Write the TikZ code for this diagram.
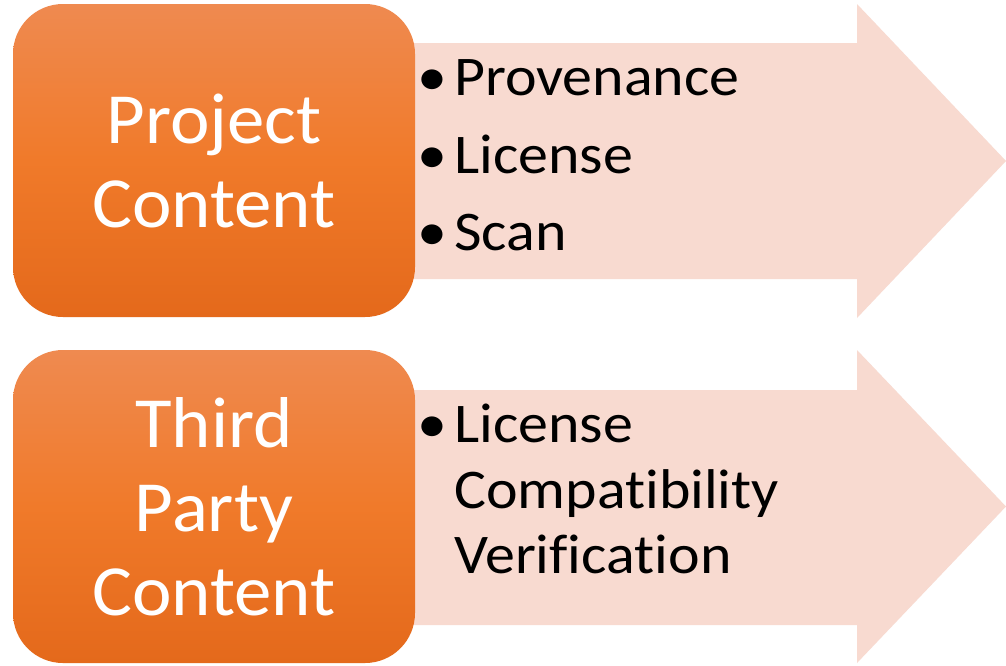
\documentclass[tikz,border=0pt]{standalone}
\usepackage{fontspec}
\setmainfont{Carlito}[Ligatures={NoCommon}]
\newfontfamily\bigfont{Carlito}[Ligatures={NoCommon},FakeStretch=1.04]
\newfontfamily\listfont{Carlito}[Ligatures={NoCommon},FakeStretch=1.07]
\definecolor{arrowpink}{HTML}{F8DAD0}
\definecolor{orTop}{HTML}{EF8A50}
\definecolor{orMid}{HTML}{F07A2A}
\definecolor{orBot}{HTML}{E4691B}
\begin{document}
\begin{tikzpicture}[x=1pt,y=-1pt,
  box/.style={rounded corners=50pt, top color=orTop, bottom color=orBot, middle color=orMid,
    minimum width=402pt, minimum height=313pt, inner sep=0pt, align=center, text=white,
    font=\bigfont\fontsize{72}{84}\selectfont},
  item/.style={anchor=base west, inner sep=0pt, font=\listfont\fontsize{56}{66}\selectfont},
  dot/.style={anchor=base, inner sep=0pt, font=\listfont\fontsize{56}{66}\selectfont},
  arrowshape/.style={fill=arrowpink}]
\useasboundingbox (0,0) rectangle (1006,665);
\fill[white] (0,0) rectangle (1006,665);
% arrows
\path[arrowshape] (380,43) -- (857,43) -- (857,4) -- (1006,161) -- (857,318) -- (857,279) -- (380,279) -- cycle;
\path[arrowshape] (380,390) -- (857,390) -- (857,350) -- (1006,506.5) -- (857,663) -- (857,625) -- (380,625) -- cycle;
% boxes
\node[box] (pc) at (214,160.5) {Project\\Content};
\node[box] (tpc) at (214,506.5) {Third\\Party\\Content};
% top list
\node[dot] (d1) at (432,95) {•};
\node[item] (t1) at (454,95) {Provenance};
\node[dot] (d2) at (432,173) {•};
\node[item] (t2) at (454,173) {License};
\node[dot] (d3) at (432,250) {•};
\node[item] (t3) at (454,250) {Scan};
% bottom list
\node[dot] (d4) at (432,442) {•};
\node[item] (t4) at (454,442) {License};
\node[item] (t5) at (454,508) {Compatibility};
\node[item] (t6) at (454,573) {Verification};
\end{tikzpicture}
\end{document}
